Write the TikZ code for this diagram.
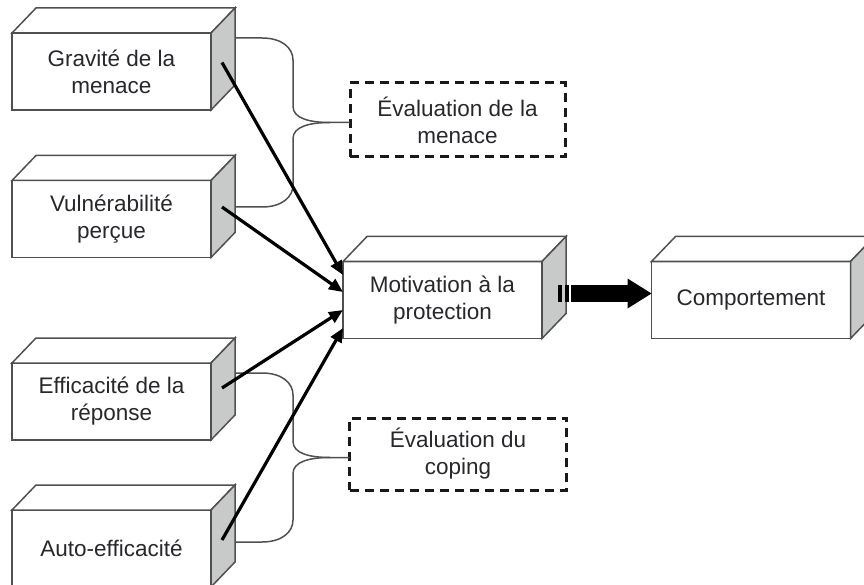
\documentclass[tikz,border=0pt]{standalone}
\usepackage{fontspec}
\setmainfont{Liberation Sans}
\usetikzlibrary{calc}
\usetikzlibrary{arrows.meta}
\definecolor{sidegray}{RGB}{200,202,202}
\definecolor{edgegray}{RGB}{80,80,80}
\definecolor{txtgray}{RGB}{40,40,44}
\tikzset{
  front/.style={draw=edgegray,line width=1.5pt,fill=white,minimum width=199pt,minimum height=77pt,
    inner sep=0pt,outer sep=0pt,align=center,text=txtgray,font=\fontsize{22.5}{27}\selectfont},
  evalbox/.style={draw=black!90,line width=3pt,dash pattern=on 9pt off 6pt,inner sep=0pt,outer sep=0pt,
    align=center,text=txtgray,font=\fontsize{22.5}{27}\selectfont},
  brace/.style={draw=edgegray,line width=1.5pt},
  link/.style={line width=3.2pt,-{Triangle[length=14pt,width=12pt]}}
}
\begin{document}
\begin{tikzpicture}[x=1pt,y=-1pt]
\useasboundingbox (0,0) rectangle (864,585);
\node[front] (grav) at (111.5,71.5) {Gravité de la\\menace};
\node[front] (vuln) at (111.5,219) {Vulnérabilité\\perçue};
\node[front] (effi) at (111.5,401.5) {Efficacité de la\\réponse};
\node[front] (auto) at (111.5,548.5) {Auto-efficacité};
\node[front] (moti) at (442.5,300) {Motivation à la\\protection};
\node[front] (comp) at (751,300) {Comportement};
\node[evalbox,minimum width=215pt,minimum height=74pt] (emen) at (457.5,120) {Évaluation de la\\menace};
\node[evalbox,minimum width=217pt,minimum height=72pt] (ecop) at (458,454) {Évaluation du\\coping};
\foreach \n in {grav,vuln,effi,auto,moti,comp}{
  \draw[edgegray,line width=1.5pt,fill=white] (\n.north west) -- ++(24,-25) -- ++(199,0) -- (\n.north east) -- cycle;
  \draw[edgegray,line width=1.5pt,fill=sidegray] (\n.north east) -- ++(24,-25) -- ++(0,77) -- (\n.south east) -- cycle;
}
\foreach \u/\a/\l/\b/\e in {grav/-33.5/vuln/-12/emen,effi/-28.5/auto/-6.5/ecop}{
  \coordinate (bt) at ($(\u.east)+(24,\a)$);
  \coordinate (bb) at ($(\l.east)+(24,\b)$);
  \coordinate (bm) at ($(bt)!0.5!(bb)$);
  \draw[brace] (bt) -- ++(27,0) .. controls +(20,0) and +(0,-12) .. ($(bt)+(58,22)$)
    -- ($(bm)+(58,-16)$) .. controls +(0,12) and +(-20,0) .. ($(bm)+(95,0)$) -- (\e.west |- bm);
  \draw[brace] (bb) -- ++(27,0) .. controls +(20,0) and +(0,12) .. ($(bb)+(58,-22)$)
    -- ($(bm)+(58,16)$) .. controls +(0,-12) and +(-20,0) .. ($(bm)+(95,0)$);
}
\draw[link] ($(grav.east)+(11,-9)$) -- ($(moti.west)+(0,-25)$);
\draw[link] ($(vuln.east)+(11,-12)$) -- ($(moti.west)+(0,-8)$);
\draw[link] ($(effi.east)+(11,-13.5)$) -- ($(moti.west)+(0,10)$);
\draw[link] ($(auto.east)+(11,-8.5)$) -- ($(moti.west)+(0,28)$);
\coordinate (ta) at ($(moti.east)+(16,-6.5)$);
\fill ($(ta)+(0,-8.5)$) rectangle ++(4,17);
\fill ($(ta)+(7,-8.5)$) rectangle ++(3.5,17);
\fill ($(ta)+(13,-8.5)$) rectangle ($(comp.west)+(-23,2)$);
\fill ($(comp.west)+(-24,-21.5)$) -- ($(comp.west)+(0,-6.5)$) -- ($(comp.west)+(-24,8.5)$) -- cycle;
\end{tikzpicture}
\end{document}
